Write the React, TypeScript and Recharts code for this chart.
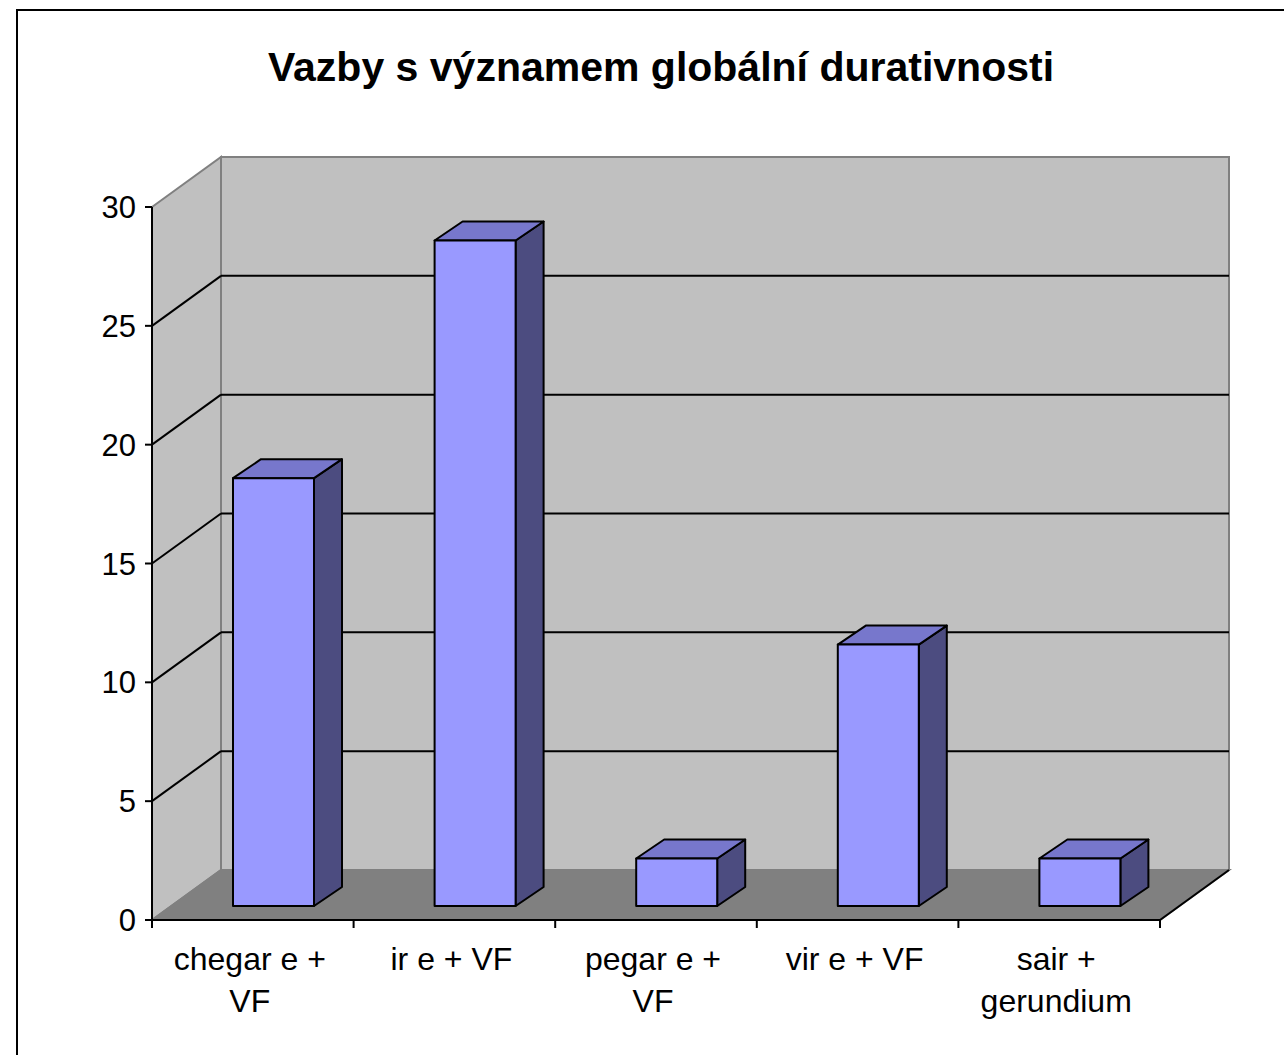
import React from 'react';
import { BarChart, Bar, XAxis, YAxis, CartesianGrid, ReferenceArea } from 'recharts';

// ---- data ----
const categories = ['chegar e +\nVF', 'ir e + VF', 'pegar e +\nVF', 'vir e + VF', 'sair +\ngerundium'];
const counts = [18, 28, 2, 11, 2];
const yTicks = [0, 5, 10, 15, 20, 25, 30];
const title = 'Vazby s významem globální durativnosti';

const data = categories.map((c, i) => ({ name: c, value: counts[i] }));

// ---- layout ----
const W = 1284;
const H = 1055;
const PLOT_LEFT = 152;
const PLOT_RIGHT = 1160;
const PLOT_TOP = 207;
const PLOT_BOTTOM = 920;
const Y_AXIS_W = 60;
const X_AXIS_H = 100;
const DX = 69;
const DY = -50;
const BAR_SHIFT_X = 21;
const BAR_SHIFT_Y = -14;
const BAR_DX = 28;
const BAR_DY = -19;
const BAND = (PLOT_RIGHT - PLOT_LEFT) / categories.length;
const FONT = '"Liberation Sans", Arial, sans-serif';

const WALL = '#c0c0c0';
const WALL_EDGE = '#808080';
const FLOOR = '#808080';
const FRONT = '#9999ff';
const TOP = '#7777cc';
const SIDE = '#4c4c80';

const Walls = (props: any) => {
  const { x, y, width, height } = props;
  const b = y + height;
  return (
    <g>
      <rect x={x + DX} y={y + DY} width={width} height={height} fill={WALL} stroke={WALL_EDGE} strokeWidth={2} />
      <polygon
        points={`${x},${y} ${x + DX},${y + DY} ${x + DX},${b + DY} ${x},${b}`}
        fill={WALL}
        stroke={WALL_EDGE}
        strokeWidth={2}
      />
      <polygon
        points={`${x},${b} ${x + DX},${b + DY} ${x + width + DX},${b + DY} ${x + width},${b}`}
        fill={FLOOR}
        stroke={WALL_EDGE}
        strokeWidth={2}
      />
      <line x1={x + width} y1={b} x2={x + width + DX} y2={b + DY} stroke="#000" strokeWidth={2} />
    </g>
  );
};

const GridLine = (props: any) => {
  const { x1, y1, x2, y2 } = props;
  const edge = Math.abs(y1 - PLOT_TOP) < 1 || Math.abs(y1 - PLOT_BOTTOM) < 1;
  if (edge) return <g key={props.key} />;
  return (
    <g key={props.key}>
      <line x1={x1 + DX} y1={y1 + DY} x2={x2 + DX} y2={y2 + DY} stroke="#000" strokeWidth={2} />
      <line x1={x1} y1={y1} x2={x1 + DX} y2={y1 + DY} stroke="#000" strokeWidth={2} />
    </g>
  );
};

const Box = (props: any) => {
  const { x, y, width, height } = props;
  if (height == null || width == null) return <g />;
  const fx = x + BAR_SHIFT_X;
  const fy = y + BAR_SHIFT_Y;
  const fb = fy + height;
  const r = fx + width;
  return (
    <g stroke="#000" strokeWidth={2} strokeLinejoin="round">
      <polygon
        points={`${r},${fy} ${r + BAR_DX},${fy + BAR_DY} ${r + BAR_DX},${fb + BAR_DY} ${r},${fb}`}
        fill={SIDE}
      />
      <polygon
        points={`${fx},${fy} ${r},${fy} ${r + BAR_DX},${fy + BAR_DY} ${fx + BAR_DX},${fy + BAR_DY}`}
        fill={TOP}
      />
      <rect x={fx} y={fy} width={width} height={height} fill={FRONT} />
    </g>
  );
};

const CatTick = (props: any) => {
  const { x, y, payload, index } = props;
  const lines = String(payload.value).split('\n');
  const left = x - BAND / 2;
  const right = x + BAND / 2;
  return (
    <g>
      <line x1={left} y1={y} x2={left} y2={y + 8} stroke="#000" strokeWidth={2} />
      {index === categories.length - 1 && (
        <line x1={right} y1={y} x2={right} y2={y + 8} stroke="#000" strokeWidth={2} />
      )}
      {lines.map((ln, i) => (
        <text
          key={i}
          x={x - 3}
          y={y + 50 + i * 42}
          textAnchor="middle"
          fontSize={32}
          fontFamily={FONT}
          fill="#000"
        >
          {ln}
        </text>
      ))}
    </g>
  );
};

export default function App() {
  return (
    <div style={{ position: 'absolute', left: 0, top: 0, width: W, height: H, overflow: 'hidden', background: '#fff' }}>
      <div
        style={{
          position: 'absolute',
          left: 16,
          top: 9,
          width: W + 40,
          height: H + 40,
          border: '2px solid #000',
          boxSizing: 'border-box',
        }}
      />
      <div
        style={{
          position: 'absolute',
          left: 661,
          top: 47,
          transform: 'translateX(-50%)',
          whiteSpace: 'nowrap',
          fontFamily: FONT,
          fontWeight: 'bold',
          fontSize: 41,
          lineHeight: '41px',
          color: '#000',
        }}
      >
        {title}
      </div>
      <div style={{ position: 'absolute', left: 0, top: 0 }}>
        <BarChart
          width={W}
          height={H}
          data={data}
          margin={{
            top: PLOT_TOP,
            right: W - PLOT_RIGHT,
            bottom: H - PLOT_BOTTOM - X_AXIS_H,
            left: PLOT_LEFT - Y_AXIS_W,
          }}
          barSize={81}
        >
          <ReferenceArea y1={0} y2={30} shape={<Walls />} ifOverflow="visible" zIndex={-200} />
          <CartesianGrid vertical={false} horizontal={(p: any) => <GridLine {...p} />} zIndex={-100} />
          <XAxis
            dataKey="name"
            height={X_AXIS_H}
            interval={0}
            axisLine={{ stroke: '#000', strokeWidth: 2 }}
            tickLine={false}
            tickSize={0}
            tickMargin={0}
            tick={<CatTick />}
          />
          <YAxis
            width={Y_AXIS_W}
            domain={[0, 30]}
            ticks={yTicks}
            interval={0}
            axisLine={{ stroke: '#000', strokeWidth: 2 }}
            tickLine={{ stroke: '#000', strokeWidth: 2 }}
            tickSize={7}
            tickMargin={9}
            tick={{ fontSize: 31, fill: '#000', fontFamily: FONT }}
          />
          <Bar dataKey="value" shape={<Box />} isAnimationActive={false} />
        </BarChart>
      </div>
    </div>
  );
}
